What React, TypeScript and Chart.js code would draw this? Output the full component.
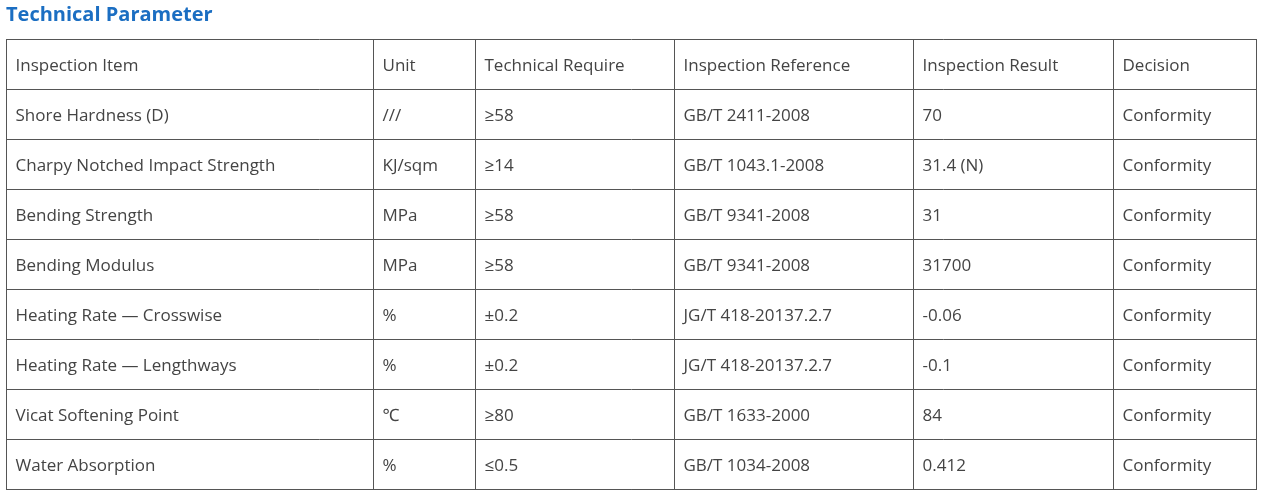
import React, { useEffect, useRef } from "react";
import { Chart, registerables } from "chart.js";

Chart.register(...registerables);

const headers = ["Inspection Item", "Unit", "Technical Require", "Inspection Reference", "Inspection Result", "Decision"];
const inspectionItems = [
  "Shore Hardness (D)",
  "Charpy Notched Impact Strength",
  "Bending Strength",
  "Bending Modulus",
  "Heating Rate — Crosswise",
  "Heating Rate — Lengthways",
  "Vicat Softening Point",
  "Water Absorption",
];
const units = ["///", "KJ/sqm", "MPa", "MPa", "%", "%", "℃", "%"];
const requirements = ["≥58", "≥14", "≥58", "≥58", "±0.2", "±0.2", "≥80", "≤0.5"];
const references = [
  "GB/T 2411-2008",
  "GB/T 1043.1-2008",
  "GB/T 9341-2008",
  "GB/T 9341-2008",
  "JG/T 418-20137.2.7",
  "JG/T 418-20137.2.7",
  "GB/T 1633-2000",
  "GB/T 1034-2008",
];
const results = ["70", "31.4 (N)", "31", "31700", "-0.06", "-0.1", "84", "0.412"];
const decisions = ["Conformity", "Conformity", "Conformity", "Conformity", "Conformity", "Conformity", "Conformity", "Conformity"];

const columns = [inspectionItems, units, requirements, references, results, decisions];

export default function App() {
  const ref = useRef<HTMLCanvasElement | null>(null);

  useEffect(() => {
    if (!ref.current) return;
    const colWidths = [367, 102, 199, 239, 200, 143];
    const colStarts: number[] = [];
    let acc = 0;
    for (const w of colWidths) {
      colStarts.push(acc);
      acc += w;
    }
    const total = acc;
    const boundaries = [...colStarts, total];
    const rowCount = inspectionItems.length + 1;

    const datasets = columns.map((col, c) => ({
      label: headers[c],
      data: [headers[c], ...col].map((t, r) => ({ x: colStarts[c], y: r + 0.5, text: t })),
      pointRadius: 0,
      pointHoverRadius: 0,
      showLine: false,
    }));

    const fontFamily = "'Open Sans', 'Noto Sans', sans-serif";

    const cellText = {
      id: "cellText",
      afterDatasetsDraw(chart: any) {
        const ctx = chart.ctx;
        ctx.save();
        ctx.font = `17px ${fontFamily}`;
        ctx.fillStyle = "#444444";
        ctx.textBaseline = "middle";
        ctx.textAlign = "left";
        chart.data.datasets.forEach((ds: any, i: number) => {
          const meta = chart.getDatasetMeta(i);
          meta.data.forEach((el: any, j: number) => {
            const raw = ds.data[j];
            ctx.fillText(raw.text, el.x + 9.5, el.y + 2.5);
          });
        });
        ctx.restore();
      },
    };

    const chart = new Chart(ref.current, {
      type: "scatter",
      data: { datasets: datasets as any },
      options: {
        animation: false,
        responsive: false,
        events: [],
        layout: { padding: { left: 6, right: 5, top: 0, bottom: 5 } },
        plugins: {
          legend: { display: false },
          tooltip: { enabled: false },
          title: {
            display: true,
            text: "Technical Parameter",
            align: "start",
            color: "#1b6ec2",
            font: { family: fontFamily, size: 20, weight: "bold", lineHeight: 1.2 },
            padding: { top: 3, bottom: 12 },
          },
        },
        scales: {
          x: {
            type: "linear",
            min: 0,
            max: total,
            afterBuildTicks(scale: any) {
              scale.ticks = boundaries.map((v) => ({ value: v }));
            },
            ticks: { display: false },
            grid: { color: "#555555", lineWidth: 1, drawTicks: false },
            border: { display: true, color: "#555555", width: 1 },
          },
          y: {
            type: "linear",
            min: 0,
            max: rowCount,
            reverse: true,
            ticks: { display: false, stepSize: 1 },
            grid: { color: "#555555", lineWidth: 1, drawTicks: false },
            border: { display: true, color: "#555555", width: 1 },
          },
        },
      },
      plugins: [cellText],
    });
    return () => chart.destroy();
  }, []);

  return (
    <div style={{ position: "absolute", left: 0, top: 0, width: 1261, height: 494, background: "#fff" }}>
      <canvas ref={ref} width={1261} height={494} style={{ width: 1261, height: 494, display: "block" }} />
    </div>
  );
}
